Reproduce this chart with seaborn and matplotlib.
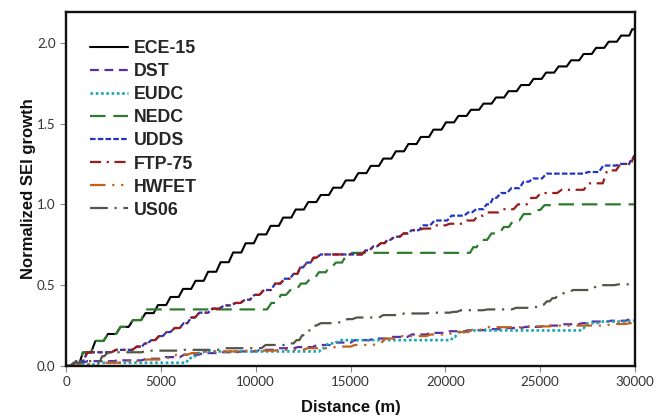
import matplotlib
matplotlib.use("Agg")
import matplotlib.pyplot as plt
import seaborn as sns
import pandas as pd

sns.set_theme(style="white")
plt.rcParams["font.family"] = ["Liberation Sans", "DejaVu Sans"]

# Normalized SEI growth vs. distance for each driving cycle (value reached at each step)
ece15_d = [0, 660, 1320, 1980, 2640, 3300, 3960, 4620, 5280, 5940, 6600, 7260, 7920,
           8580, 9240, 9900, 10560, 11220, 11880, 12540, 13200, 13860, 14520, 15180,
           15840, 16500, 17160, 17820, 18480, 19140, 19800, 20460, 21120, 21780, 22440,
           23100, 23760, 24420, 25080, 25740, 26400, 27060, 27720, 28380, 29040, 29700, 30000]
ece15_v = [0.0, 0.084, 0.155, 0.198, 0.242, 0.284, 0.327, 0.377, 0.427, 0.477, 0.527, 0.583,
           0.642, 0.702, 0.759, 0.814, 0.867, 0.918, 0.968, 1.014, 1.058, 1.103, 1.148, 1.193,
           1.238, 1.283, 1.328, 1.373, 1.417, 1.462, 1.507, 1.547, 1.585, 1.623, 1.661, 1.700,
           1.738, 1.776, 1.815, 1.853, 1.891, 1.930, 1.968, 2.006, 2.044, 2.083, 2.11]

dst_d = [0, 400, 900, 2500, 4000, 5000, 6000, 7000, 8000, 9000, 10000, 11000, 12000, 13000,
         14000, 15000, 16000, 17000, 18000, 19000, 20000, 21000, 22000, 23000, 24000, 25000,
         26000, 27000, 27500, 28500, 29500, 30000]
dst_v = [0.0, 0.02, 0.03, 0.035, 0.045, 0.055, 0.07, 0.08, 0.085, 0.09, 0.10, 0.11, 0.117, 0.13,
         0.145, 0.16, 0.17, 0.18, 0.195, 0.205, 0.215, 0.222, 0.228, 0.235, 0.242, 0.25,
         0.258, 0.265, 0.275, 0.28, 0.29, 0.29]

eudc_d = [0, 300, 1500, 6350, 6500, 6800, 7100, 13350, 13600, 14200, 20300, 20500, 21000,
          27100, 27300, 28000, 29500, 30000]
eudc_v = [0.0, 0.01, 0.02, 0.04, 0.06, 0.08, 0.09, 0.11, 0.14, 0.16, 0.18, 0.21, 0.22,
          0.235, 0.265, 0.275, 0.28, 0.28]

nedc_d = [0, 660, 1320, 1980, 2640, 3300, 3960, 10600, 11100, 11600, 12150, 12650, 13100,
          13700, 14000, 14550, 14850, 21300, 21650, 22200, 22850, 23350, 23900, 24550, 25000,
          25550, 30000]
nedc_v = [0.0, 0.084, 0.155, 0.198, 0.242, 0.284, 0.35, 0.39, 0.44, 0.47, 0.51, 0.54, 0.58,
          0.61, 0.64, 0.67, 0.70, 0.735, 0.78, 0.82, 0.86, 0.90, 0.94, 0.965, 0.995, 1.0, 1.0]

udds_d = [0, 300, 900, 2400, 3500, 4000, 4300, 4700, 5100, 5500, 6000, 6400, 6800, 7500, 8100,
          8700, 9200, 9700, 10200, 10800, 11300, 11800, 12200, 12500, 12900, 13200, 15600, 16000,
          16400, 16800, 17100, 17600, 18000, 18600, 19200, 20100, 21000, 21400, 22000, 22350,
          22700, 23250, 23900, 24400, 25100, 27300, 28100, 29000, 29700, 29900, 30000]
udds_v = [0.0, 0.03, 0.085, 0.10, 0.12, 0.14, 0.16, 0.185, 0.21, 0.235, 0.265, 0.30, 0.33, 0.355,
          0.375, 0.39, 0.41, 0.44, 0.47, 0.51, 0.54, 0.57, 0.61, 0.64, 0.67, 0.69, 0.715, 0.74,
          0.76, 0.78, 0.80, 0.82, 0.84, 0.87, 0.90, 0.93, 0.95, 0.97, 1.00, 1.04,
          1.07, 1.10, 1.14, 1.16, 1.19, 1.20, 1.24, 1.25, 1.28, 1.30, 1.31]

ftp75_d = [0, 300, 900, 2400, 3500, 4000, 4300, 4700, 5100, 5500, 6000, 6400, 6800, 7500, 8100,
           8700, 9200, 9700, 10200, 10800, 11300, 11800, 12200, 12500, 12900, 13200, 15600, 16000,
           16400, 16800, 17100, 17600, 18000, 18600, 19200, 20000, 20900, 21500, 22000, 22800,
           23600, 24300, 24800, 25900, 27300, 28300, 29000, 29800, 30000]
ftp75_v = [0.0, 0.03, 0.085, 0.10, 0.12, 0.14, 0.16, 0.185, 0.21, 0.235, 0.265, 0.30, 0.33, 0.355,
           0.375, 0.39, 0.41, 0.44, 0.47, 0.51, 0.54, 0.57, 0.61, 0.64, 0.67, 0.69, 0.715, 0.74,
           0.76, 0.78, 0.80, 0.82, 0.84, 0.85, 0.87, 0.88, 0.90, 0.93, 0.95, 0.97,
           1.00, 1.04, 1.07, 1.09, 1.13, 1.21, 1.25, 1.29, 1.30]

hwfet_d = [0, 500, 1800, 3000, 4000, 5000, 5600, 6400, 7200, 9000, 11000, 12500, 14000, 15000,
           16200, 16600, 17500, 19000, 20200, 21200, 22000, 24000, 25500, 27300, 28500, 29500, 30000]
hwfet_v = [0.0, 0.01, 0.02, 0.03, 0.04, 0.05, 0.07, 0.08, 0.09, 0.095, 0.10, 0.11, 0.12, 0.13,
           0.14, 0.17, 0.185, 0.195, 0.21, 0.225, 0.24, 0.245, 0.25, 0.25, 0.26, 0.265, 0.27]

us06_d = [0, 200, 600, 1800, 2000, 4000, 6000, 8000, 10300, 11700, 12000, 12300, 12600, 12900,
          13200, 14000, 14600, 15100, 16500, 17600, 19000, 20240, 20600, 22000, 23500, 24500,
          24900, 25200, 25500, 25800, 26100, 26500, 27600, 27800, 28900, 29700, 30000]
us06_v = [0.0, 0.02, 0.03, 0.06, 0.085, 0.095, 0.10, 0.11, 0.13, 0.14, 0.16, 0.19, 0.22, 0.25,
          0.265, 0.27, 0.29, 0.30, 0.315, 0.325, 0.33, 0.335, 0.345, 0.35, 0.36, 0.365,
          0.38, 0.40, 0.42, 0.44, 0.455, 0.47, 0.48, 0.50, 0.505, 0.51, 0.51]

series = [
    ("ECE-15", ece15_d, ece15_v, "#000000", "-", 1.5),
    ("DST", dst_d, dst_v, "#5a2ea6", (0, (4, 2.5)), 1.6),
    ("EUDC", eudc_d, eudc_v, "#17a6b6", (0, (1, 1)), 1.9),
    ("NEDC", nedc_d, nedc_v, "#2e7b2e", (0, (7, 3.5)), 1.6),
    ("UDDS", udds_d, udds_v, "#2236c4", (0, (2.5, 1)), 1.6),
    ("FTP-75", ftp75_d, ftp75_v, "#9b1b1b", (0, (5, 2.5, 1, 2.5)), 1.6),
    ("HWFET", hwfet_d, hwfet_v, "#c0621c", (0, (7, 3, 1, 3, 1, 3)), 1.6),
    ("US06", us06_d, us06_v, "#545448", (0, (8, 3, 1, 3)), 1.6),
]

RAMP = 230  # metres over which each step climbs to its new level


def stepped(d, v):
    """Turn step levels into a path with short sloped risers."""
    xs, ys = [d[0]], [v[0]]
    for k in range(1, len(d)):
        gap = d[k + 1] - d[k] if k + 1 < len(d) else 0
        r = min(RAMP, 0.5 * gap)
        xs += [d[k], d[k] + r]
        ys += [v[k - 1], v[k]]
    return pd.DataFrame({"Distance": xs, "SEI": ys})


fig = plt.figure(figsize=(6.57, 4.17), dpi=100)
ax = fig.add_axes([0.1005, 0.1223, 0.866, 0.849])

for name, d, v, color, ls, lw in series:
    sns.lineplot(data=stepped(d, v), x="Distance", y="SEI", ax=ax, color=color,
                 linestyle=ls, linewidth=lw, estimator=None, sort=False, label=name)

ax.set_xlim(0, 30000)
ax.set_ylim(0, 2.19)
ax.set_xticks([0, 5000, 10000, 15000, 20000, 25000, 30000])
ax.set_yticks([0.0, 0.5, 1.0, 1.5, 2.0])
ax.set_yticklabels(["0.0", "0.5", "1.0", "1.5", "2.0"])

for sp in ax.spines.values():
    sp.set_color("#111111")
    sp.set_linewidth(1.7)

ax.tick_params(axis="both", which="major", direction="out", length=4, width=0.8,
               color="#888888", labelcolor="#333333", pad=3.5,
               left=True, bottom=True)
for lab in ax.get_xticklabels() + ax.get_yticklabels():
    lab.set_fontfamily(["Lato", "DejaVu Sans"])
    lab.set_fontsize(9.6)

ax.set_xlabel("Distance (m)", fontsize=12, fontweight="bold", color="#111111")
ax.set_ylabel("Normalized SEI growth", fontsize=12, fontweight="bold", color="#111111")
ax.xaxis.set_label_coords(0.5, -0.097)
ax.yaxis.set_label_coords(-0.052, 0.5)

leg = ax.legend(loc="upper left", bbox_to_anchor=(0.03, 0.94), frameon=False,
                prop={"weight": "bold", "size": 12.8}, handlelength=2.15,
                handletextpad=0.3, labelspacing=0.34, borderaxespad=0.0)

fig.savefig("out.png", dpi=100, facecolor="white")
